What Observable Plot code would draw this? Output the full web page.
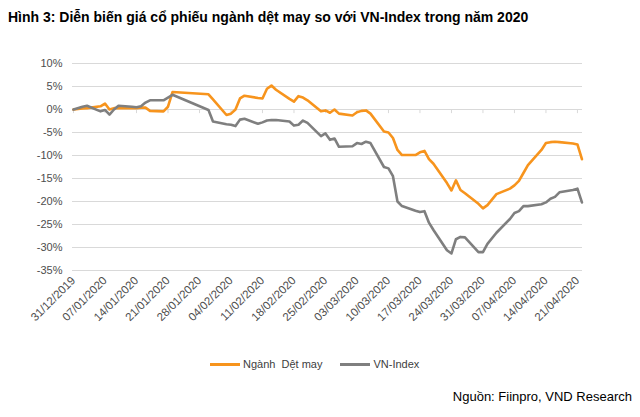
<!DOCTYPE html>
<html>
<head>
<meta charset="utf-8">
<script src="https://cdn.jsdelivr.net/npm/d3@7"></script>
<script src="https://cdn.jsdelivr.net/npm/@observablehq/plot@0.6"></script>
<style>
  html, body { margin: 0; padding: 0; background: #fff; }
  body { width: 640px; height: 417px; position: relative; overflow: hidden; font-family: "Liberation Sans", Arial, sans-serif; }
  #title { position: absolute; left: 8px; top: 9px; font-size: 14px; font-weight: bold; color: #000; white-space: nowrap; }
  #chart { position: absolute; left: 0; top: 0; }
  #legend { position: absolute; top: 358px; left: 210px; font-size: 11px; color: #404040; display: flex; align-items: center; white-space: nowrap; }
  #legend .sw { display: inline-block; width: 30px; height: 3px; margin-right: 3px; }
  #legend .item { display: flex; align-items: center; margin-right: 18px; }
  #source { position: absolute; right: 8px; top: 389px; font-size: 13px; color: #000; }
</style>
</head>
<body>
<div id="title">Hình 3: Diễn biến giá cổ phiếu ngành dệt may so với VN-Index trong năm 2020</div>
<div id="chart"></div>
<div id="legend"></div>
<div id="source">Nguồn: Fiinpro, VND Research</div>
<script>
const seriesNames = ["Ngành  Dệt may", "VN-Index"];
const seriesColors = ["#f7941d", "#7f7f7f"];

const dates = [
  "2019-12-31","2020-01-02","2020-01-03","2020-01-06","2020-01-07","2020-01-08","2020-01-09","2020-01-10",
  "2020-01-13","2020-01-14","2020-01-15","2020-01-16","2020-01-17","2020-01-20","2020-01-21","2020-01-22",
  "2020-01-30","2020-01-31","2020-02-03","2020-02-04","2020-02-05","2020-02-06","2020-02-07",
  "2020-02-10","2020-02-11","2020-02-12","2020-02-13","2020-02-14","2020-02-17","2020-02-18","2020-02-19",
  "2020-02-20","2020-02-21","2020-02-24","2020-02-25","2020-02-26","2020-02-27","2020-02-28",
  "2020-03-02","2020-03-03","2020-03-04","2020-03-05","2020-03-06","2020-03-09","2020-03-10","2020-03-11",
  "2020-03-12","2020-03-13","2020-03-16","2020-03-17","2020-03-18","2020-03-19","2020-03-20",
  "2020-03-23","2020-03-24","2020-03-25","2020-03-26","2020-03-27","2020-03-30","2020-03-31",
  "2020-04-01","2020-04-03","2020-04-06","2020-04-07","2020-04-08","2020-04-09","2020-04-10",
  "2020-04-13","2020-04-14","2020-04-15","2020-04-16","2020-04-17","2020-04-20","2020-04-21","2020-04-22"
];

const textile = [
  0, 0.2, 0.3, 0.7, 1.3, 0.0, 0.3, 0.3,
  0.3, 0.3, 0.4, 0.4, -0.3, -0.4, 0.6, 3.8,
  3.3, 2.2, -1.2, -0.9, 0.0, 2.4, 3.0,
  2.5, 2.4, 4.5, 5.2, 4.3, 2.3, 1.7, 2.9,
  2.6, 2.0, -0.4, -0.2, -0.7, 0.0, -0.9,
  -1.3, -0.6, -0.3, -0.2, -0.9, -4.8, -5.0, -6.2,
  -8.8, -9.9, -9.9, -9.3, -9.0, -10.8, -11.8,
  -16.0, -17.6, -15.4, -17.5, -18.2, -20.5, -21.5,
  -20.8, -18.4, -17.2, -16.5, -15.5, -13.8, -12.1,
  -8.8, -7.3, -7.1, -7.0, -7.1, -7.4, -7.6, -10.8
];

const vnindex = [
  0, 0.6, 0.8, -0.4, -0.1, -1.1, 0.0, 0.8,
  0.6, 0.5, 0.7, 1.5, 2.0, 2.0, 2.6, 3.2,
  -0.1, -2.6, -3.2, -3.3, -3.6, -2.2, -2.0,
  -3.1, -2.8, -2.4, -2.3, -2.3, -2.6, -3.5, -3.3,
  -2.4, -2.9, -5.8, -5.2, -6.6, -6.3, -8.1,
  -8.0, -7.3, -7.5, -7.0, -7.3, -12.5, -12.8, -14.5,
  -20.0, -21.0, -22.0, -22.3, -22.1, -24.6, -26.2,
  -30.6, -31.3, -28.2, -27.7, -27.8, -31.0, -31.0,
  -29.2, -26.8, -23.8, -22.5, -22.1, -21.0, -21.0,
  -20.6, -20.2, -19.4, -19.0, -18.0, -17.5, -17.2, -20.2
];

const tickLabels = ["31/12/2019","07/01/2020","14/01/2020","21/01/2020","28/01/2020","04/02/2020","11/02/2020",
  "18/02/2020","25/02/2020","03/03/2020","10/03/2020","17/03/2020","24/03/2020","31/03/2020","07/04/2020",
  "14/04/2020","21/04/2020"];
const yTicks = [10, 5, 0, -5, -10, -15, -20, -25, -30, -35];

const parseDate = d3.utcParse("%Y-%m-%d");
const parseTick = d3.utcParse("%d/%m/%Y");
const fmtTick = d3.utcFormat("%d/%m/%Y");
const tickDates = tickLabels.map(parseTick);

const rows = [];
dates.forEach((d, i) => {
  rows.push({date: parseDate(d), value: textile[i], series: seriesNames[0]});
  rows.push({date: parseDate(d), value: vnindex[i], series: seriesNames[1]});
});

const x0 = new Date(Date.UTC(2019, 11, 30, 18, 40));
const x1 = new Date(Date.UTC(2020, 3, 22, 3, 0));

const chart = Plot.plot({
  width: 640,
  height: 345,
  marginTop: 63,
  marginBottom: 75,
  marginLeft: 72,
  marginRight: 58,
  style: {fontFamily: "'Liberation Sans', Arial, sans-serif", background: "transparent"},
  x: {type: "utc", domain: [x0, x1]},
  y: {domain: [-35, 10]},
  color: {domain: seriesNames, range: seriesColors},
  marks: [
    Plot.ruleY(yTicks, {y: d => d, stroke: "#d9d9d9", strokeWidth: 1.2}),
    Plot.ruleX(tickDates, {x: d => d, y1: 0, y2: -0.9, stroke: "#d9d9d9", strokeWidth: 1}),
    Plot.lineY(rows, {x: "date", y: "value", z: "series", stroke: "series", strokeWidth: 2.6, strokeLinejoin: "round", curve: "linear"}),
    Plot.axisY(yTicks, {label: null, tickSize: 0, tickPadding: 10, tickFormat: d => d + "%", fontSize: 11, fill: "#4d4d4d"}),
    Plot.axisX(tickDates, {label: null, anchor: "bottom", tickSize: 0, tickPadding: 8, tickRotate: -45, tickFormat: fmtTick, fontSize: 11.5, fill: "#4d4d4d"})
  ]
});
document.getElementById("chart").appendChild(chart);

const legend = document.getElementById("legend");
seriesNames.forEach((name, i) => {
  const item = document.createElement("span");
  item.className = "item";
  const sw = document.createElement("span");
  sw.className = "sw";
  sw.style.background = seriesColors[i];
  const t = document.createElement("span");
  t.textContent = name;
  t.style.whiteSpace = "pre";
  item.appendChild(sw);
  item.appendChild(t);
  legend.appendChild(item);
});
</script>
</body>
</html>
